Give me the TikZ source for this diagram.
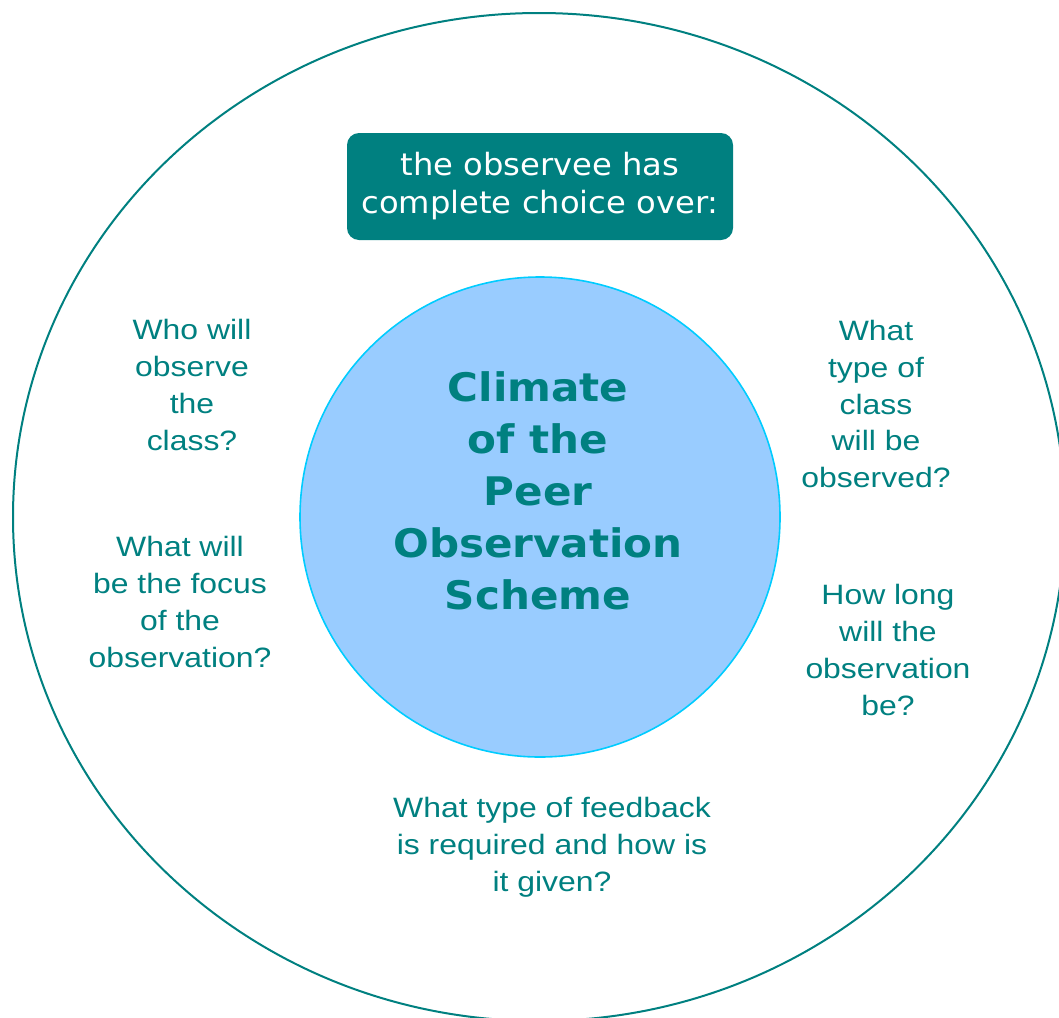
\documentclass[tikz,border=0pt]{standalone}
\usepackage{fontspec}
\setmainfont{DejaVu Sans}
\newfontfamily\qfont[FakeStretch=1.14]{Liberation Sans}
\newfontfamily\cfont[FakeStretch=1.07]{DejaVu Sans Bold}
\newfontfamily\bfont[FakeStretch=1.05]{DejaVu Sans}
\definecolor{teal}{HTML}{008080}
\definecolor{innerfill}{HTML}{99CCFF}
\definecolor{innerline}{HTML}{00CCFF}
\tikzset{
  q/.style={text=teal, align=center, font=\qfont\fontsize{21pt}{27.7pt}\selectfont, inner sep=0pt},
  ctr/.style={text=teal, align=center, font=\cfont\fontsize{29.5pt}{39pt}\selectfont, inner sep=0pt},
  boxtxt/.style={text=white, align=center, font=\bfont\fontsize{23pt}{28.5pt}\selectfont, inner sep=0pt}
}
\begin{document}
\begin{tikzpicture}[x=0.75pt,y=-0.75pt]
\useasboundingbox (0,0) rectangle (1059,1017);
\begin{scope}
\clip (0,0) rectangle (1059,1017);
\draw[teal, line width=1.5pt] (539,517) ellipse [x radius=526, y radius=504];
\end{scope}
\fill[innerfill] (540,517) circle [radius=240];
\draw[innerline, line width=1.2pt] (540,517) circle [radius=240];
\fill[teal, rounded corners=9pt] (347,133) rectangle (733,240);
\node[boxtxt] (box) at (540,186) {the observee has\\complete choice over:};
\node[ctr] (c) at (538,491) {Climate\\of the\\Peer\\Observation\\Scheme};
\node[q] (who) at (192,385) {Who will\\observe\\the\\class?};
\node[q] (focus) at (180,602) {What will\\be the focus\\of the\\observation?};
\node[q] (type) at (876,404) {What\\type of\\class\\will be\\observed?};
\node[q] (long) at (888,650) {How long\\will the\\observation\\be?};
\node[q] (fb) at (552,847) {What type of feedback\\is required and how is\\it given?};
\end{tikzpicture}
\end{document}
